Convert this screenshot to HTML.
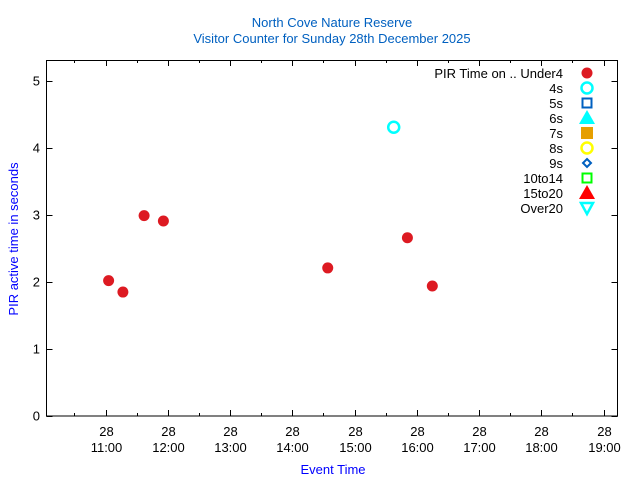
<!DOCTYPE html>
<html><head><meta charset="utf-8"><style>
body{margin:0;background:#fff}
svg text{font-family:"Liberation Sans",sans-serif;font-size:13px}
</style></head><body>
<svg id="c" width="640" height="480">
<text x="332" y="27" text-anchor="middle" fill="#0060c0">North Cove Nature Reserve</text>
<text x="332" y="43" text-anchor="middle" fill="#0060c0">Visitor Counter for Sunday 28th December 2025</text>
<text x="333" y="474" text-anchor="middle" fill="#0000ff">Event Time</text>
<text transform="translate(18,239) rotate(-90)" text-anchor="middle" fill="#0000ff">PIR active time in seconds</text>
<rect x="46.5" y="60.5" width="571" height="355.5" fill="none" stroke="#000"/>
<g id="axes"></g><g id="legend"></g><g id="marks"></g>
</svg>
<script>
const times=[11.05,11.28,11.62,11.93,14.57,15.85,16.25];
const values=[2.02,1.85,2.99,2.91,2.21,2.66,1.94];
const times4s=[15.63];
const values4s=[4.31];
const yTicks=[0,1,2,3,4,5];
const xTicks=[11,12,13,14,15,16,17,18,19];
const legendLabels=["PIR Time on .. Under4","4s","5s","6s","7s","8s","9s","10to14","15to20","Over20"];
const NS="http://www.w3.org/2000/svg";
const X=h=>105.5+(h-11)*62.25;
const Y=v=>416-v*67;
function mk(t,a,p){const e=document.createElementNS(NS,t);for(const k in a)e.setAttribute(k,a[k]);p.appendChild(e);return e;}
const ax=document.getElementById('axes');
yTicks.forEach(v=>{
 const y=Math.round(Y(v))+0.5;
 const l=mk('path',{d:`M46.5 ${y}h6M617.5 ${y}h-6`,stroke:'#000'},ax);
 
 
 const t=mk('text',{x:40,y:y+4,'text-anchor':'end'},ax);t.textContent=v;
 
 
});
xTicks.forEach(h=>{
 const x=Math.round(X(h))+0.5, xm=Math.round(X(h-0.5))+0.5;
 const l=mk('path',{d:`M${x} 416v-6M${x} 60v6M${xm} 416v-3M${xm} 60v3`,stroke:'#000'},ax);
 
 
 const t=mk('text',{x:x,y:436,'text-anchor':'middle'},ax);t.textContent='28';
 
 
 const t2=mk('text',{x:x,y:452,'text-anchor':'middle'},ax);t2.textContent=h+':00';
 
 
});
const lg=document.getElementById('legend');
const sx=587;
const sym=[
 y=>`<circle cx="${sx}" cy="${y}" r="5.5" fill="#dd1a22"/>`,
 y=>`<circle cx="${sx}" cy="${y}" r="5.5" fill="none" stroke="#00ffff" stroke-width="2.5"/>`,
 y=>`<rect x="${sx-4.5}" y="${y-4.5}" width="9" height="9" fill="none" stroke="#0060c0" stroke-width="2"/>`,
 y=>`<path d="M${sx} ${y-8}L${sx+8} ${y+6}H${sx-8}Z" fill="#00ffff"/>`,
 y=>`<rect x="${sx-6}" y="${y-6}" width="12" height="12" fill="#e69f00"/>`,
 y=>`<circle cx="${sx}" cy="${y}" r="5.5" fill="none" stroke="#ffff00" stroke-width="2.5"/>`,
 y=>`<path d="M${sx} ${y-4}L${sx+4} ${y}L${sx} ${y+4}L${sx-4} ${y}Z" fill="none" stroke="#0060c0" stroke-width="2"/>`,
 y=>`<rect x="${sx-4.5}" y="${y-4.5}" width="9" height="9" fill="none" stroke="#00ff00" stroke-width="2"/>`,
 y=>`<path d="M${sx} ${y-8}L${sx+8} ${y+6}H${sx-8}Z" fill="#ff0000"/>`,
 y=>`<path d="M${sx-6} ${y-5}H${sx+6}L${sx} ${y+6}Z" fill="none" stroke="#00ffff" stroke-width="2.5"/>`
];
legendLabels.forEach((s,i)=>{
 const y=73+i*15;
 const g=mk('g',{},lg);
 
 
 const t=mk('text',{x:563,y:y+5,'text-anchor':'end'},g);t.textContent=s;
 g.insertAdjacentHTML('beforeend',sym[i](y));
});
const mg=document.getElementById('marks');
times.forEach((h,i)=>{
 const c=mk('circle',{cx:X(h),cy:Y(values[i]),r:5.5,fill:'#dd1a22'},mg);
 
 
});
times4s.forEach((h,i)=>{
 const c=mk('circle',{cx:X(h),cy:Y(values4s[i]),r:5.5,fill:'none',stroke:'#00ffff','stroke-width':2.5},mg);
 
 
});
</script>
</body></html>
